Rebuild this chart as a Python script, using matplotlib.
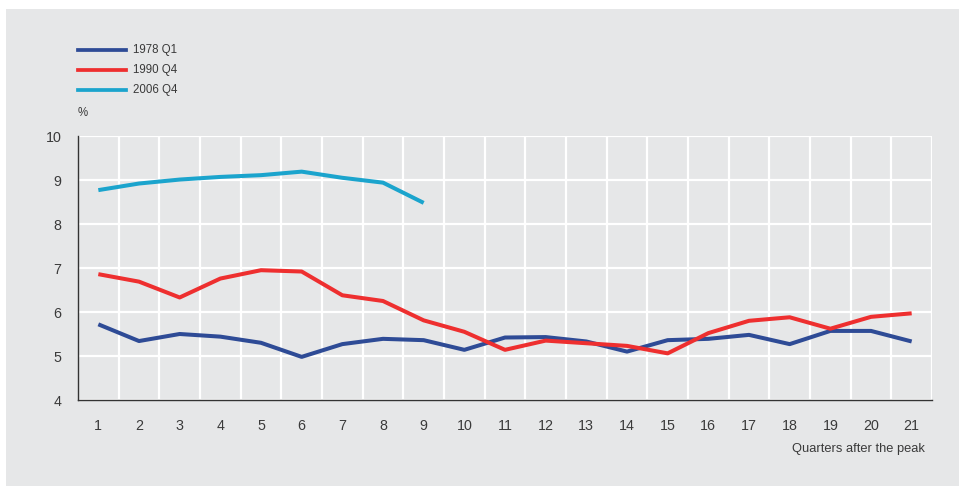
import matplotlib
matplotlib.use("Agg")
import matplotlib.pyplot as plt
from matplotlib.patches import Rectangle
from matplotlib.lines import Line2D

plt.rcParams['font.family'] = ['Liberation Sans', 'DejaVu Sans']

quarters = list(range(1, 22))
s1978 = [5.72, 5.34, 5.50, 5.44, 5.30, 4.98, 5.27, 5.39, 5.36, 5.14,
         5.42, 5.43, 5.33, 5.10, 5.36, 5.39, 5.48, 5.27, 5.57, 5.57, 5.33]
s1990 = [6.86, 6.69, 6.33, 6.76, 6.95, 6.92, 6.38, 6.25, 5.81, 5.55,
         5.14, 5.35, 5.29, 5.23, 5.06, 5.52, 5.80, 5.88, 5.62, 5.89, 5.97]
s2006 = [8.77, 8.92, 9.01, 9.07, 9.11, 9.19, 9.05, 8.94, 8.48]
labels = ['1978 Q1', '1990 Q4', '2006 Q4']
colors = ['#2e4b96', '#ee2f2f', '#1ba4cd']

bg = '#e6e7e8'
txt = '#3a3a3a'
W, H = 962, 486

fig = plt.figure(figsize=(9.62, 4.86), dpi=100, facecolor='white')
fig.patches.append(Rectangle((6 / W, 0), 953 / W, 477 / H, transform=fig.transFigure,
                             facecolor=bg, edgecolor='none', zorder=-10))

ax = fig.add_axes([78 / W, 1 - 400 / H, (932 - 78) / W, (400 - 136) / H])
ax.set_facecolor(bg)

for y, c in zip([s1978, s1990, s2006], colors):
    ax.plot(quarters[:len(y)], y, color=c, lw=2.9, solid_capstyle='butt', zorder=3)

ax.set_xlim(0.5, 21.5)
ax.set_ylim(4, 10)
ax.set_xticks(quarters)
ax.set_yticks(range(4, 11))
ax.set_xticks([q + 0.5 for q in range(0, 22)], minor=True)
ax.grid(False)
ax.grid(True, which='minor', axis='x', color='white', lw=1.6)
ax.grid(True, which='major', axis='y', color='white', lw=1.6)
ax.tick_params(which='both', length=0)
ax.tick_params(axis='x', pad=14, labelsize=10.3, labelcolor=txt)
ax.tick_params(axis='y', pad=12, labelsize=10.3, labelcolor=txt)
for s in ['top', 'right']:
    ax.spines[s].set_visible(False)
for s in ['left', 'bottom']:
    ax.spines[s].set_color('#333333')
    ax.spines[s].set_linewidth(1.0)
ax.set_axisbelow(True)

# legend
ly = [50.5, 70.5, 90.5]
for lab, c, yy in zip(labels, colors, ly):
    fig.add_artist(Line2D([78 / W, 126 / W], [1 - yy / H] * 2, color=c, lw=2.7,
                          transform=fig.transFigure))
    fig.text(133 / W, 1 - yy / H, lab, fontsize=8.3, color=txt, va='center', ha='left')

fig.text(78 / W, 1 - 112.5 / H, '%', fontsize=8.3, color=txt, va='center', ha='left')
fig.text(925 / W, 1 - 449 / H, 'Quarters after the peak', fontsize=9.3, color=txt,
         va='center', ha='right')

fig.savefig('out.png', dpi=100, facecolor='white')
